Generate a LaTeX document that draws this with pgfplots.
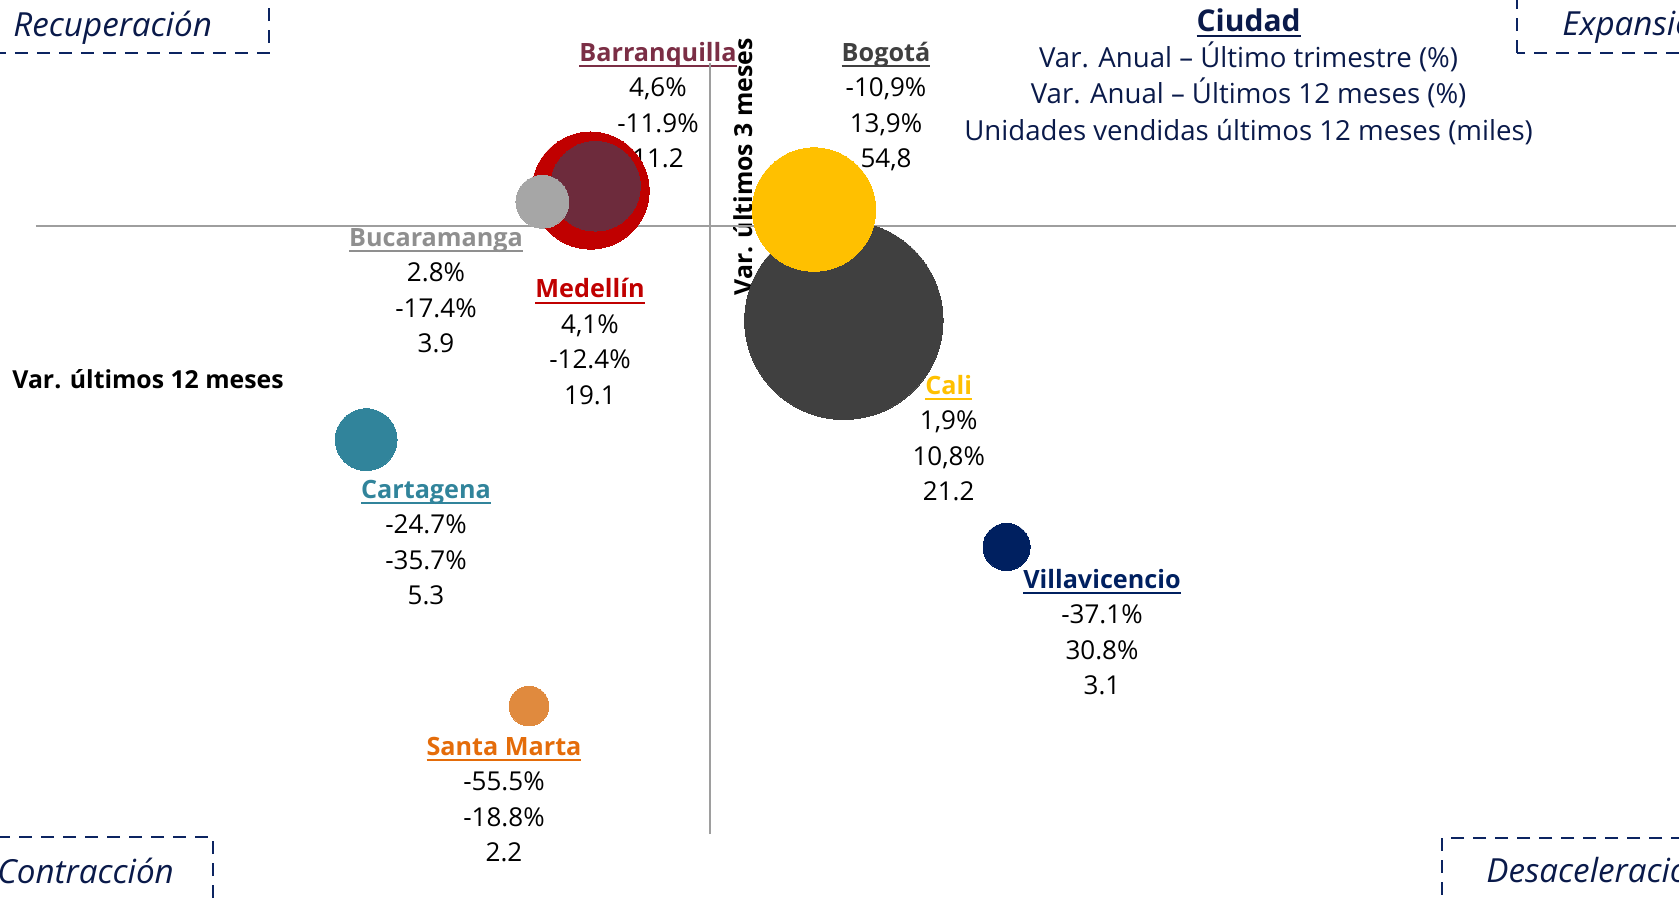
\documentclass[border=0pt]{standalone}
\usepackage{pgfplots}
\pgfplotsset{compat=1.18}
\usepackage{fontspec}
\setmainfont{Open Sans}
\definecolor{cBog}{HTML}{404040}
\definecolor{cCali}{HTML}{FFC000}
\definecolor{cMed}{HTML}{C00000}
\definecolor{cBaq}{HTML}{6D2B3C}
\definecolor{cBaqT}{HTML}{7B2E45}
\definecolor{cBuc}{HTML}{A6A6A6}
\definecolor{cBucT}{HTML}{8F8F8F}
\definecolor{cCar}{HTML}{31849B}
\definecolor{cSM}{HTML}{E08A3E}
\definecolor{cSMT}{HTML}{E46C0A}
\definecolor{cVil}{HTML}{002060}
\definecolor{cNavy}{HTML}{0C2461}
\definecolor{cNavyT}{HTML}{0A1A4A}
\newcommand\lf{\fontsize{13}{15}\selectfont}
\newcommand\lgf{\fontsize{13.8}{16}\selectfont}
\newcommand\lbf{\fontsize{12.6}{15}\selectfont\bfseries}
\newcommand\af{\fontsize{12.4}{15}\selectfont\bfseries}
\newcommand\qf{\fontsize{16.6}{18}\selectfont\itshape}
\newcommand\ul[1]{\setbox0\hbox{#1}\rlap{\rule[-3pt]{\wd0}{1pt}}\box0}
% x, baseline of name, colour, name, l1, l2, l3
\newcommand\city[7]{%
  \node[anchor=base, font=\lbf, text=#3] at (#1,#2) {\ul{#4}};
  \node[anchor=base, font=\lf] at (#1,#2+35.5) {#5};
  \node[anchor=base, font=\lf] at (#1,#2+71) {#6};
  \node[anchor=base, font=\lf] at (#1,#2+106.5) {#7};
}
\pgfplotsset{
  bub/.style={only marks, scatter, mark=*, color=#1,
    scatter/use mapped color={draw=#1, fill=#1},
    mark options={line width=0pt},
    point meta=\thisrow{u},
    visualization depends on={6.7*sqrt(\thisrow{u}) \as \rad},
    scatter/@pre marker code/.append style={/tikz/mark size=\rad}}
}
\begin{document}
\begin{tikzpicture}
\begin{scope}[shift={(-355pt,113pt)}, x=0.5pt, y=-0.5pt]
  \tikzset{qbox/.style={draw=cNavy, line width=1pt, dash pattern=on 6.5pt off 4.5pt}}
  \draw[qbox] (-10,-10) rectangle (269,53);
  \draw[qbox] (1517,53) rectangle (1700,-10);
  \draw[qbox] (-10,837) rectangle (213,910);
  \draw[qbox] (1442,838) rectangle (1700,910);
  \node[anchor=base west, font=\qf, text=cNavyT, inner sep=0pt] at (13,36) {Recuperación};
  \node[anchor=base west, font=\qf, text=cNavyT, inner sep=0pt] at (1562,35) {Expansión};
  \node[anchor=base west, font=\qf, text=cNavyT, inner sep=0pt] at (-3,883) {Contracción};
  \node[anchor=base west, font=\qf, text=cNavyT, inner sep=0pt] at (1486,882) {Desaceleración};
  % legend
  \node[anchor=base, font=\fontsize{15}{17}\selectfont\bfseries, text=cNavyT] at (1248.6,31) {\ul{Ciudad}};
  \node[anchor=base, font=\lgf, text=cNavyT] at (1248.6,67) {Var. Anual – Último trimestre (\%)};
  \node[anchor=base, font=\lgf, text=cNavyT] at (1248.6,103) {Var. Anual – Últimos 12 meses (\%)};
  \node[anchor=base, font=\lgf, text=cNavyT] at (1248.6,140) {Unidades vendidas últimos 12 meses (miles)};
  % axis titles
  \node[anchor=base west, font=\af, inner sep=0pt] at (12,388) {Var. últimos 12 meses};
  \node[anchor=base, rotate=90, font=\af, inner sep=0pt] at (752,167) {Var. últimos 3 meses};
  % city labels
  \city{886}{61}{cBog}{Bogotá}{-10,9\%}{13,9\%}{54,8}
  \city{658}{61}{cBaqT}{Barranquilla}{4,6\%}{-11.9\%}{11.2}
  \city{436}{246}{cBucT}{Bucaramanga}{2.8\%}{-17.4\%}{3.9}
  \city{590}{297.5}{cMed}{Medellín}{4,1\%}{-12.4\%}{19.1}
  \city{948.7}{394}{cCali}{Cali}{1,9\%}{10,8\%}{21.2}
  \city{426}{498}{cCar}{Cartagena}{-24.7\%}{-35.7\%}{5.3}
  \city{1102}{588}{cVil}{Villavicencio}{-37.1\%}{30.8\%}{3.1}
  \city{504}{755}{cSMT}{Santa Marta}{-55.5\%}{-18.8\%}{2.2}
\end{scope}
\begin{axis}[anchor=origin, at={(0pt,0pt)}, x=4.815pt, y=4.325pt,
  xmin=-70, xmax=100.3, ymin=-70.3, ymax=18.8,
  axis lines=middle, axis line style={draw=black!38, line width=1pt, -},
  xtick=\empty, ytick=\empty, clip=false,
  point meta min=0, point meta max=60]
\addplot[bub=cBog] table[row sep=\\] {x y u\\ 13.9 -10.9 54.8\\};
\addplot[bub=cCali] table[row sep=\\] {x y u\\ 10.8 1.9 21.2\\};
\addplot[bub=cMed] table[row sep=\\] {x y u\\ -12.4 4.1 19.1\\};
\addplot[bub=cBaq] table[row sep=\\] {x y u\\ -11.9 4.6 11.2\\};
\addplot[bub=cBuc] table[row sep=\\] {x y u\\ -17.4 2.8 3.9\\};
\addplot[bub=cCar] table[row sep=\\] {x y u\\ -35.7 -24.7 5.3\\};
\addplot[bub=cVil] table[row sep=\\] {x y u\\ 30.8 -37.1 3.1\\};
\addplot[bub=cSM] table[row sep=\\] {x y u\\ -18.8 -55.5 2.2\\};
\end{axis}
\pgfresetboundingbox
\path[use as bounding box] (-355pt,113pt) rectangle ++(839.5pt,-451pt);
\end{tikzpicture}
\end{document}
